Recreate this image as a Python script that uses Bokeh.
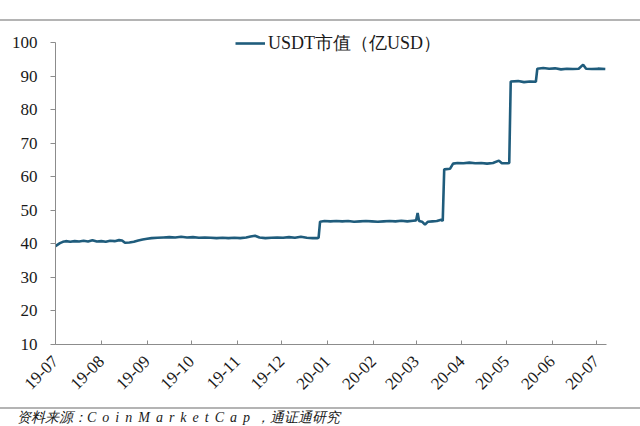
from datetime import datetime, timedelta
from math import pi

from bokeh.plotting import figure
from bokeh.models import Div, FixedTicker, Legend, LegendItem, Range1d, ColumnDataSource
from bokeh.layouts import column
from bokeh.embed import file_html
from bokeh.resources import INLINE

series_name = "USDT市值（亿USD）"
source_prefix = "资料来源："
source_name = "CoinMarketCap"
source_suffix = "，通证通研究"

dates = [
    "2019-07-01", "2019-07-02", "2019-07-04", "2019-07-06", "2019-07-08", "2019-07-11",
    "2019-07-14", "2019-07-17", "2019-07-20", "2019-07-23", "2019-07-26", "2019-07-29",
    "2019-08-01", "2019-08-04", "2019-08-07", "2019-08-10", "2019-08-13", "2019-08-15",
    "2019-08-17", "2019-08-20", "2019-08-23", "2019-08-26", "2019-08-29", "2019-09-01",
    "2019-09-04", "2019-09-08", "2019-09-12", "2019-09-16", "2019-09-20", "2019-09-24",
    "2019-09-28", "2019-10-02", "2019-10-06", "2019-10-10", "2019-10-14", "2019-10-18",
    "2019-10-22", "2019-10-26", "2019-10-30", "2019-11-03", "2019-11-07", "2019-11-10",
    "2019-11-13", "2019-11-16", "2019-11-20", "2019-11-24", "2019-11-28", "2019-12-02",
    "2019-12-06", "2019-12-10", "2019-12-14", "2019-12-18", "2019-12-22", "2019-12-25",
    "2019-12-26", "2019-12-27", "2019-12-30", "2020-01-03", "2020-01-07", "2020-01-11",
    "2020-01-15", "2020-01-19", "2020-01-23", "2020-01-27", "2020-01-31", "2020-02-04",
    "2020-02-08", "2020-02-12", "2020-02-16", "2020-02-20", "2020-02-24", "2020-02-28",
    "2020-03-01", "2020-03-02", "2020-03-03", "2020-03-05", "2020-03-07", "2020-03-09",
    "2020-03-12", "2020-03-15", "2020-03-18", "2020-03-19", "2020-03-20", "2020-03-24",
    "2020-03-26", "2020-03-29", "2020-04-02", "2020-04-06", "2020-04-10", "2020-04-14",
    "2020-04-18", "2020-04-22", "2020-04-26", "2020-04-28", "2020-05-02", "2020-05-03",
    "2020-05-04", "2020-05-09", "2020-05-13", "2020-05-17", "2020-05-21", "2020-05-22",
    "2020-05-26", "2020-05-30", "2020-06-03", "2020-06-07", "2020-06-11", "2020-06-15",
    "2020-06-19", "2020-06-22", "2020-06-24", "2020-06-28", "2020-07-02", "2020-07-07",
]
values = [
    39.3, 39.6, 40.2, 40.6, 40.8, 40.6,
    40.8, 40.7, 40.9, 40.7, 41.1, 40.7,
    40.8, 40.6, 40.9, 40.8, 41.1, 41.0,
    40.3, 40.4, 40.6, 41.0, 41.3, 41.5,
    41.7, 41.8, 41.9, 42.0, 41.9, 42.1,
    41.9, 42.0, 41.8, 41.9, 41.8, 41.7,
    41.8, 41.7, 41.8, 41.7, 41.9, 42.2,
    42.4, 41.9, 41.7, 41.8, 41.9, 41.8,
    42.0, 41.8, 42.1, 41.8, 41.7, 41.7,
    41.8, 46.6, 46.8, 46.7, 46.8, 46.7,
    46.8, 46.6, 46.7, 46.8, 46.7, 46.6,
    46.7, 46.8, 46.7, 46.9, 46.7, 46.9,
    47.0, 49.2, 46.8, 46.6, 45.7, 46.6,
    46.7, 46.8, 47.2, 46.8, 62.2, 62.4,
    63.9, 64.1, 64.0, 64.2, 64.0, 64.1,
    63.9, 64.1, 64.8, 64.0, 64.0, 64.1,
    88.4, 88.5, 88.2, 88.4, 88.3, 92.2,
    92.4, 92.2, 92.3, 92.0, 92.2, 92.1,
    92.2, 93.4, 92.2, 92.1, 92.2, 92.1,
]

month_ticks = [
    "2019-07-01", "2019-08-01", "2019-09-01", "2019-10-01", "2019-11-01", "2019-12-01",
    "2020-01-01", "2020-02-01", "2020-03-01", "2020-04-01", "2020-05-01", "2020-06-01",
    "2020-07-01",
]
tick_labels = ["19-07", "19-08", "19-09", "19-10", "19-11", "19-12",
               "20-01", "20-02", "20-03", "20-04", "20-05", "20-06", "20-07"]
y_ticks = [10, 20, 30, 40, 50, 60, 70, 80, 90, 100]

EPOCH = datetime(1970, 1, 1)


def to_ms(d):
    return (d - EPOCH).total_seconds() * 1000.0


x_dt = [datetime.strptime(d, "%Y-%m-%d") for d in dates]
src = ColumnDataSource(data=dict(x=x_dt, y=values))

start = datetime(2019, 7, 1)
end = datetime(2019, 7, 1) + timedelta(days=372.8)

p = figure(width=640, height=384, x_axis_type="datetime",
           x_range=Range1d(start, end), y_range=Range1d(10, 102.98),
           output_backend="svg", toolbar_location=None,
           min_border_left=55, min_border_right=34,
           min_border_top=10, min_border_bottom=62)
p.outline_line_color = None
p.xgrid.visible = False
p.ygrid.visible = False
p.background_fill_color = "white"
p.border_fill_color = "white"

line_color = "#1f5c7c"
r = p.line("x", "y", source=src, line_color=line_color, line_width=2.6)

tick_ms = [to_ms(datetime.strptime(d, "%Y-%m-%d")) for d in month_ticks]
p.xaxis.ticker = FixedTicker(ticks=tick_ms)
p.xaxis.major_label_overrides = {t: lab for t, lab in zip(tick_ms, tick_labels)}
p.xaxis.major_label_orientation = pi / 4
p.xaxis.minor_tick_line_color = None
p.xaxis.major_tick_in = 4
p.xaxis.major_tick_out = 0
p.xaxis.major_label_standoff = 14

p.yaxis.ticker = FixedTicker(ticks=y_ticks)
p.yaxis.bounds = (10, 100)
p.yaxis.minor_tick_line_color = None
p.yaxis.major_tick_in = 0
p.yaxis.major_tick_out = 5
p.yaxis.major_label_standoff = 13

for ax in (p.xaxis[0], p.yaxis[0]):
    ax.axis_line_color = "#8c8c8c"
    ax.major_tick_line_color = "#8c8c8c"
    ax.major_label_text_font = "Liberation Serif"
    ax.major_label_text_font_size = "17px"
    ax.major_label_text_color = "#1a1a1a"

legend = Legend(items=[LegendItem(label=series_name, renderers=[r])],
                location=(180, 289))
legend.background_fill_alpha = 0
legend.border_line_color = None
legend.padding = 0
legend.margin = 0
legend.glyph_width = 30
legend.glyph_height = 20
legend.label_height = 20
legend.label_standoff = 3
legend.label_text_font = "Liberation Serif"
legend.label_text_font_size = "18px"
legend.label_text_color = "#1a1a1a"
p.add_layout(legend, "center")

rule_color = "#b4b4b4"
top_rule = Div(text="", width=640, height=2, margin=(19, 0, 1, 0),
               styles={"background-color": rule_color})
bottom_rule = Div(text="", width=640, height=2, margin=(1, 0, 0, 0),
                  styles={"background-color": rule_color})

src_html = (
    '<div style="padding-left:17px;font-family:\'Liberation Serif\',serif;'
    'font-style:italic;font-size:14px;line-height:17px;color:#1a1a1a;white-space:nowrap;">'
    + source_prefix
    + '<span style="letter-spacing:6px;">' + source_name + '</span>'
    + source_suffix
    + '</div>'
)
source_div = Div(text=src_html, width=640, height=17, margin=0)

layout = column(top_rule, p, bottom_rule, source_div, spacing=0)

open("out.html", "w").write(file_html(layout, INLINE))
